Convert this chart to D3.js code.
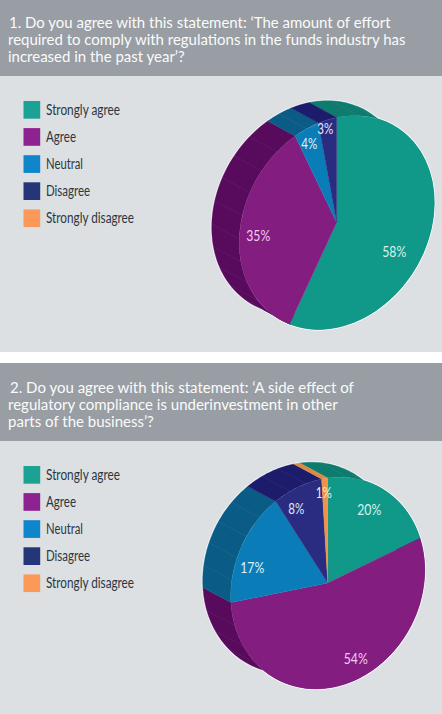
<!DOCTYPE html>
<html>
<head>
<meta charset="utf-8">
<script src="https://cdn.jsdelivr.net/npm/d3@7"></script>
<style>
html,body{margin:0;padding:0;background:#fff;}
svg{display:block;}
text{font-family:Lato,"Open Sans",sans-serif;}
</style>
</head>
<body>
<svg id="chart" width="442" height="714"></svg>
<script>
// Survey answers, in percent
const categories = ["Strongly agree", "Agree", "Neutral", "Disagree", "Strongly disagree"];
const effortValues = [58, 35, 4, 3, 0];
const underinvestmentValues = [20, 54, 17, 8, 1];

const effortTitle = [
  "1. Do you agree with this statement: ‘The amount of effort",
  "required to comply with regulations in the funds industry has",
  "increased in the past year’?"
];
const underinvestmentTitle = [
  "2. Do you agree with this statement: ‘A side effect of",
  "regulatory compliance is underinvestment in other",
  "parts of the business’?"
];

// Colours per category: slice face, slice side, legend swatch, label tint
const faceColours = ["#109888", "#831d80", "#0a7db8", "#292c80", "#ee9347"];
const sideColours = ["#0f7a6e", "#580a5d", "#0a5c86", "#1c1b6c", "#d98a45"];
const swatchColours = ["#1ca195", "#8e2290", "#0f86cc", "#243578", "#fb9a58"];
const labelColours = ["#d8f3ee", "#f3cdee", "#e0f0fa", "#e3e6f7", "#f6ebe0"];

const svg = d3.select("#chart");
const colour = d3.scaleOrdinal().domain(categories).range(faceColours);
const sideColour = d3.scaleOrdinal().domain(categories).range(sideColours);
const swatchColour = d3.scaleOrdinal().domain(categories).range(swatchColours);
const labelColour = d3.scaleOrdinal().domain(categories).range(labelColours);
const legendWidth = d3.scaleOrdinal().domain(categories).range([74, 30, 37, 44, 88]);

const pie = d3.pie().sort(null).value(d => d.value);
const unitArc = d3.arc().innerRadius(0).outerRadius(1);
const outline = d3.line();

function drawPanel(cfg) {
  const g = svg.append("g");

  // Panel and header bands
  g.append("rect").attr("x", 0).attr("y", cfg.top).attr("width", 442)
    .attr("height", cfg.bottom - cfg.top).attr("fill", "#dde0e3");
  g.append("rect").attr("x", 0).attr("y", cfg.top).attr("width", 442)
    .attr("height", cfg.headerHeight).attr("fill", "#989ea4");

  // Question text, sized so the longest line fills its measure
  const titles = g.selectAll("text.title").data(cfg.title).join("text")
    .attr("class", "title")
    .attr("x", (d, i) => cfg.titleX[i])
    .attr("y", (d, i) => cfg.titleY + i * 17.2)
    .attr("font-size", 17)
    .attr("fill", "#fbfbfb")
    .text(d => d);
  const natural = titles.nodes()[1].getComputedTextLength();
  titles.attr("font-size", 17 * cfg.titleWidth / natural);

  // Legend
  const rows = g.selectAll("g.row").data(categories).join("g")
    .attr("class", "row")
    .attr("transform", (d, i) => `translate(23.5,${cfg.legendY + i * 27.1})`);
  rows.append("rect").attr("width", 16.7).attr("height", 17.7)
    .attr("fill", d => swatchColour(d));
  rows.append("text").attr("x", 22.5).attr("y", 13.6)
    .attr("font-size", 14.5).attr("fill", "#2c3641")
    .attr("textLength", d => legendWidth(d))
    .attr("lengthAdjust", "spacingAndGlyphs")
    .text(d => d);

  // Tilted disc: unit circle mapped onto the page
  const { cx, cy, ux, uy, vy, dx, dy } = cfg;
  const toFace = a => [cx + ux * Math.sin(a), cy + uy * Math.sin(a) - vy * Math.cos(a)];
  const toBack = a => { const p = toFace(a); return [p[0] + dx, p[1] + dy]; };

  const slices = pie(categories.map((c, i) => ({ category: c, value: cfg.values[i] })))
    .filter(s => s.value > 0);

  const sidePath = s => {
    const steps = d3.range(0, 49).map(k => s.startAngle + (s.endAngle - s.startAngle) * k / 48);
    return outline(steps.map(toFace).concat(steps.slice().reverse().map(toBack))) + "Z";
  };
  const faceTransform = `matrix(${ux},${uy},0,${vy},${cx},${cy})`;

  // White rim around the whole solid
  const rim = g.append("g").attr("fill", "#fff").attr("stroke", "#fff").attr("stroke-width", 2)
    .attr("stroke-linejoin", "round");
  rim.selectAll("path.s").data(slices).join("path").attr("class", "s").attr("d", sidePath);
  rim.append("path").attr("d", outline(d3.range(0, 121).map(k => toFace(k / 120 * 2 * Math.PI))) + "Z");

  // Extruded wall, one strip per slice
  g.selectAll("path.side").data(slices).join("path")
    .attr("class", "side")
    .attr("d", sidePath)
    .attr("fill", s => sideColour(s.data.category))
    .attr("stroke", s => sideColour(s.data.category))
    .attr("stroke-width", 0.4);

  // Faint facet seams across the wall
  const seams = slices.flatMap(s => {
    const n = Math.floor((s.endAngle - s.startAngle) / 0.24);
    return d3.range(1, n + 1).map(k => s.startAngle + k * (s.endAngle - s.startAngle) / (n + 1));
  });
  g.selectAll("path.seam").data(seams).join("path")
    .attr("class", "seam")
    .attr("d", a => outline([toBack(a), toFace(a)]))
    .attr("stroke", "#fff").attr("stroke-opacity", 0.05).attr("stroke-width", 1);

  // Front face
  g.selectAll("path.face").data(slices).join("path")
    .attr("class", "face")
    .attr("d", unitArc)
    .attr("transform", faceTransform)
    .attr("fill", s => colour(s.data.category))
    .attr("stroke", s => colour(s.data.category))
    .attr("stroke-width", 0.3)
    .attr("vector-effect", "non-scaling-stroke");

  // Percentage labels
  g.selectAll("text.pct").data(slices).join("text")
    .attr("class", "pct")
    .attr("x", (s, i) => cx + cfg.labelOffsets[i][0])
    .attr("y", (s, i) => cy + cfg.labelOffsets[i][1] + 5.5)
    .attr("text-anchor", "middle")
    .attr("font-size", 15.5)
    .attr("fill", s => labelColour(s.data.category))
    .attr("textLength", s => `${s.value}%`.length * 8)
    .attr("lengthAdjust", "spacingAndGlyphs")
    .text(s => `${s.value}%`);
}

drawPanel({
  top: 0, bottom: 352, headerHeight: 76,
  title: effortTitle, titleX: [9, 8, 8], titleY: 28, titleWidth: 398,
  legendY: 101,
  values: effortValues,
  cx: 336.7, cy: 222.5, ux: 97.5, uy: -20, vy: 105, dx: -27.5, dy: -15,
  labelOffsets: [[57.5, 28.5], [-78.5, 13], [-27.5, -79], [-11.5, -94]]
});

drawPanel({
  top: 363, bottom: 714, headerHeight: 78,
  title: underinvestmentTitle, titleX: [10, 8, 8], titleY: 392.7, titleWidth: 330,
  legendY: 466,
  values: underinvestmentValues,
  cx: 327.7, cy: 583, ux: 97, uy: -13, vy: 105, dx: -28, dy: -15,
  labelOffsets: [[41.5, -74], [28, 75], [-75.5, -16], [-31.5, -75], [-4, -91]]
});
</script>
</body>
</html>
